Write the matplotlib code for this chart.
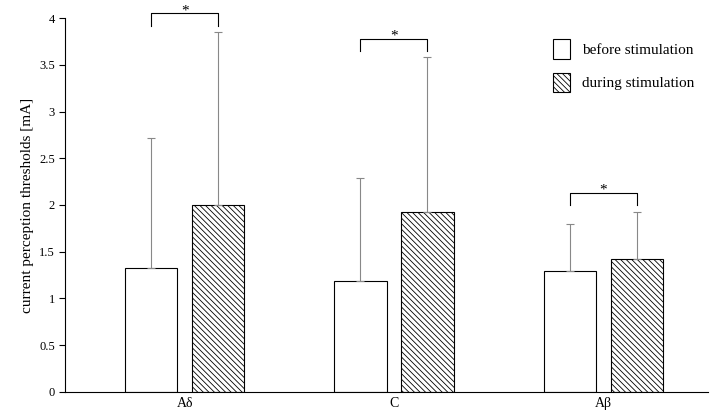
import matplotlib
matplotlib.use("Agg")
import matplotlib.pyplot as plt
import numpy as np

plt.rcParams["font.family"] = "Liberation Serif"
plt.rcParams["hatch.linewidth"] = 0.6

categories = ["Aδ", "C", "Aβ"]
before = [1.33, 1.19, 1.29]
during = [2.00, 1.92, 1.42]
before_sd = [1.39, 1.10, 0.51]
during_sd = [1.85, 1.66, 0.51]

fig = plt.figure(figsize=(7.1, 4.2), dpi=100)
ax = fig.add_axes([0.092, 0.067, 0.905, 0.89])
x = np.arange(len(categories))
w = 0.25
gap = 0.035
xb = x - w / 2 - gap
xd = x + w / 2 + gap
ax.bar(xb, before, w, color="white", edgecolor="black", linewidth=0.8,
       yerr=[np.zeros(3), before_sd], error_kw=dict(ecolor="#888888", elinewidth=0.8, capsize=3, capthick=0.8),
       label="before stimulation")
ax.bar(xd, during, w, color="white", edgecolor="black", linewidth=0.8, hatch="\\\\\\\\\\\\",
       yerr=[np.zeros(3), during_sd], error_kw=dict(ecolor="#888888", elinewidth=0.8, capsize=3, capthick=0.8),
       label="during stimulation")

for i in range(3):
    top = max(before[i] + before_sd[i], during[i] + during_sd[i]) + 0.07
    h = 0.13
    ax.plot([xb[i], xb[i], xd[i], xd[i]], [top, top + h, top + h, top], color="black", lw=0.8, clip_on=False)
    ax.text(x[i], top + h - 0.04, "*", ha="center", va="bottom", fontsize=11, clip_on=False)

ax.set_ylim(0, 4)
ax.set_yticks(np.arange(0, 4.01, 0.5))
ax.set_yticklabels(["0", "0.5", "1", "1.5", "2", "2.5", "3", "3.5", "4"])
ax.set_xlim(-0.57, 2.5)
ax.set_xticks(x)
ax.set_xticklabels(categories)
ax.tick_params(axis="x", length=0, labelsize=10)
ax.tick_params(axis="y", labelsize=9, direction="out", length=4)
ax.spines["top"].set_visible(False)
ax.spines["right"].set_visible(False)
ax.set_ylabel("current perception thresholds [mA]", fontsize=11)
ax.legend(loc="upper right", bbox_to_anchor=(1.0, 0.98), frameon=False, fontsize=11,
          handlelength=1.1, handleheight=1.6, labelspacing=0.9)
fig.savefig("out.png", dpi=100)
